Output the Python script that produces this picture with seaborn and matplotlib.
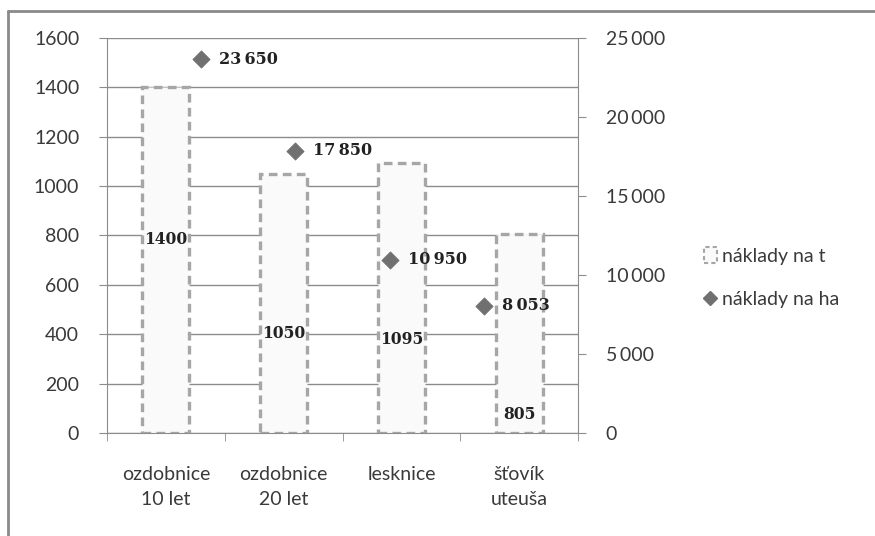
import pandas as pd
import matplotlib.pyplot as plt
import seaborn as sns
import numpy as np
from matplotlib.lines import Line2D
from matplotlib.patches import Patch
from matplotlib.ticker import FuncFormatter

# data
kategorie = ['ozdobnice\n10 let', 'ozdobnice\n20 let', 'lesknice', 'šťovík\nuteuša']
naklady_t = [1400, 1050, 1095, 805]
naklady_ha = [23650, 17850, 10950, 8053]
ha_x = [1, 2, 3, 4]
label_y = [782, 405, 377, 73]   # where the bar labels sit (ručně posunuté)

sns.set_style('white')
plt.rcParams['font.family'] = ['Lato', 'DejaVu Sans']
text_c = '#3a3a3a'
line_c = '#8c8c8c'

df = pd.DataFrame({'kategorie': kategorie, 'naklady_t': naklady_t})

fig = plt.figure(figsize=(8.75, 5.36), dpi=100)
ax = fig.add_axes([0.1223, 0.1922, 0.5383, 0.7369])

sns.barplot(data=df, x='kategorie', y='naklady_t', ax=ax, width=0.4,
            color='#fafafa', edgecolor='#a6a6a6', linewidth=2.4,
            linestyle=(0, (2.6, 1.6)), saturation=1)
ax.set_xlim(-0.5, 3.5)
ax.set_ylim(0, 1600)
ax.set_yticks(np.arange(0, 1601, 200))
ax.yaxis.grid(True, color=line_c, lw=1)
ax.set_axisbelow(True)
ax.set_xlabel('')
ax.set_ylabel('')
for s in ['top', 'right']:
    ax.spines[s].set_visible(False)
for s in ['left', 'bottom']:
    ax.spines[s].set_color(line_c)
ax.tick_params(axis='y', direction='out', length=6, color=line_c, pad=14,
               labelsize=14, labelcolor=text_c, left=True)
ax.set_xticks(np.arange(-0.5, 3.6, 1), minor=True)
ax.tick_params(axis='x', which='minor', direction='out', length=6, color=line_c, bottom=True)
ax.tick_params(axis='x', which='major', length=0, pad=24, labelsize=14, labelcolor=text_c)
for t in ax.get_xticklabels():
    t.set_linespacing(1.55)
    t.set_verticalalignment('top')

for i, v in enumerate(naklady_t):
    ax.text(i, label_y[i], str(v), ha='center', va='center', fontsize=11.2,
            fontweight='bold', family='DejaVu Serif', color='#222222')

# sekundarni osa
ax2 = ax.twinx()
ax2.set_ylim(0, 25000)
ax2.set_yticks(np.arange(0, 25001, 5000))
ax2.yaxis.set_major_formatter(FuncFormatter(lambda v, p: f'{int(v):,}'.replace(',', '\u2009')))
for s in ['top', 'left', 'bottom']:
    ax2.spines[s].set_visible(False)
ax2.spines['right'].set_color(line_c)
ax2.tick_params(axis='y', direction='out', length=6, color=line_c, pad=14,
                labelsize=14, labelcolor=text_c, right=True)

ax3 = ax2.twiny()
ax3.set_xlim(0, 5)
ax3.axis('off')
sns.scatterplot(x=ha_x, y=naklady_ha, ax=ax3, marker='D', s=75, color='#707070',
                edgecolor='#707070', zorder=5)
for x, v in zip(ha_x, naklady_ha):
    ax3.annotate(f'{v:,}'.replace(',', '\u2009'), (x, v), xytext=(13, 0),
                 textcoords='offset points', ha='left', va='center', fontsize=11.5,
                 fontweight='bold', family='DejaVu Serif', color='#222222')

handles = [Patch(facecolor='#fafafa', edgecolor='#a6a6a6', linestyle=(0, (2, 1.5)), linewidth=1.5),
           Line2D([], [], marker='D', linestyle='', color='#707070', markersize=7)]
fig.legend(handles, ['náklady na t', 'náklady na ha'], loc='center left',
           bbox_to_anchor=(0.784, 0.482), frameon=False, fontsize=14,
           handlelength=0.7, handleheight=0.9, handletextpad=0.25, labelspacing=1.3,
           labelcolor=text_c)

# ramecek
fig.add_artist(Line2D([0.0091, 1], [0.9795, 0.9795], color='#8a8a8a', lw=2))
fig.add_artist(Line2D([0.0091, 0.0091], [0, 0.9795], color='#8a8a8a', lw=2))

fig.savefig('out.png', dpi=100)
